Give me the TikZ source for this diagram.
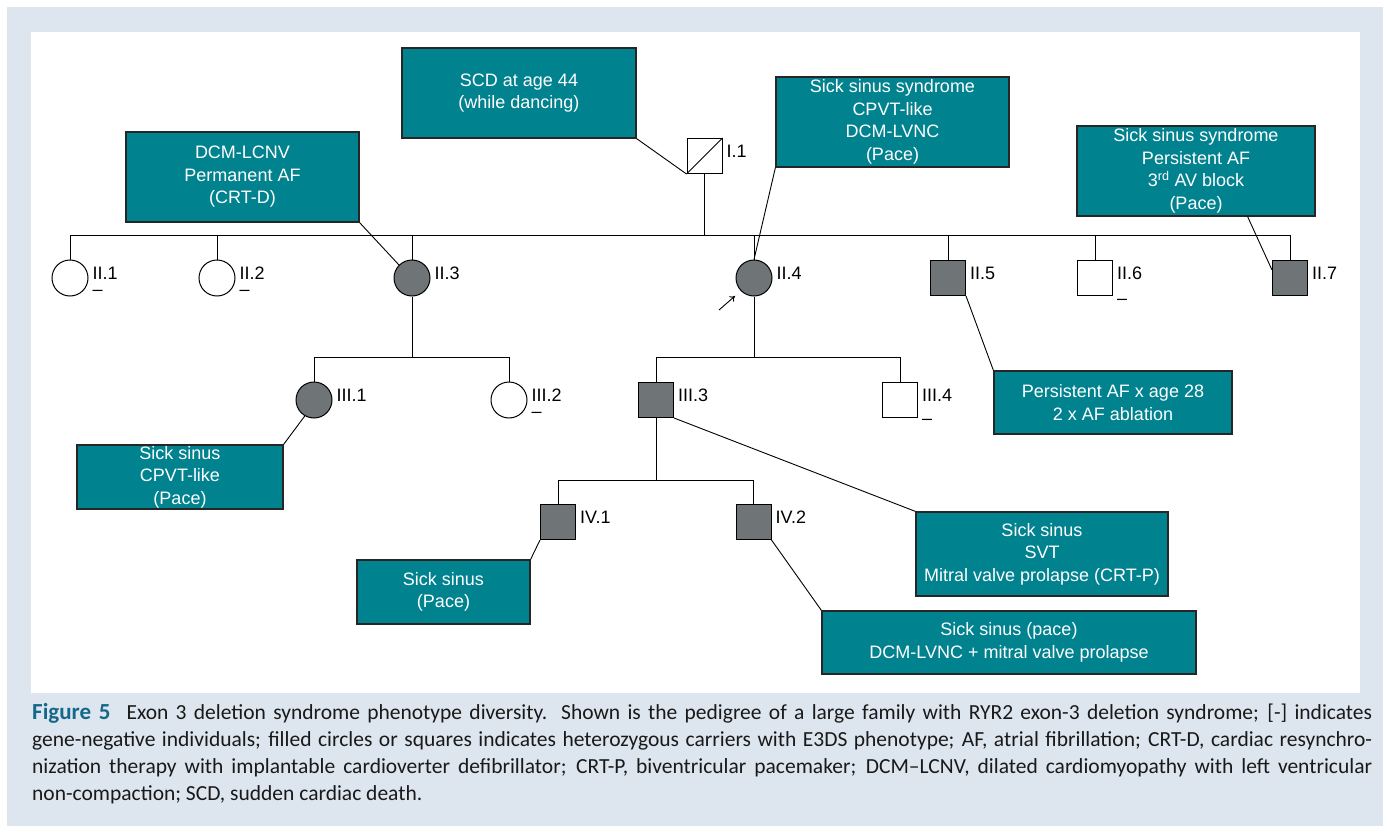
\documentclass[tikz,border=0pt]{standalone}
\usepackage{fontspec}
\setmainfont{Liberation Sans}
\newfontfamily\capfont{Carlito}
\usetikzlibrary{arrows.meta,positioning}
\definecolor{figbg}{RGB}{221,230,239}
\definecolor{notefill}{RGB}{0,130,143}
\definecolor{carrierfill}{RGB}{111,116,118}
\definecolor{figblue}{RGB}{22,104,138}
\begin{document}
\begin{tikzpicture}[
  x=1pt, y=-1pt,
  every node/.style={font=\fontsize{18}{22.5}\selectfont},
  note/.style={draw=black!85, line width=1.2pt, fill=notefill, text=white, align=center, inner sep=0pt},
  female/.style={draw, circle, line width=1pt, minimum size=36pt, inner sep=0pt},
  male/.style={draw, rectangle, line width=1pt, minimum size=35pt, inner sep=0pt},
  carrier/.style={fill=carrierfill},
  tag/.style={anchor=base west, inner sep=0pt},
  neg/.style={anchor=base west, inner sep=0pt},
  link/.style={line width=0.9pt}
]
\useasboundingbox (0,0) rectangle (1387,832);
\fill[figbg] (7,7) rectangle (1383,826);
\fill[white] (31,32) rectangle (1360,693);

% generation I
\node[male] (I1) at (704.5,156) {};
\draw[link] (I1.south west) -- (I1.north east);

% generation II
\node[female] (II1) at (70,278) {};
\node[female] (II2) at (217,278) {};
\node[female, carrier] (II3) at (412,278) {};
\node[female, carrier] (II4) at (754,278) {};
\node[male, carrier] (II5) at (948,278) {};
\node[male] (II6) at (1095,278) {};
\node[male, carrier] (II7) at (1290,278) {};

% generation III
\node[female, carrier] (III1) at (314,400) {};
\node[female] (III2) at (509,400) {};
\node[male, carrier] (III3) at (656,400) {};
\node[male] (III4) at (900,400) {};

% generation IV
\node[male, carrier] (IV1) at (558,522) {};
\node[male, carrier] (IV2) at (753.5,522) {};

% ids
\foreach \k/\t in {I1/I.1, II1/II.1, II2/II.2, II3/II.3, II4/II.4, II5/II.5, II6/II.6, II7/II.7,
                   III1/III.1, III2/III.2, III3/III.3, III4/III.4, IV1/IV.1, IV2/IV.2}
  \node[tag] (\k tag) at ([xshift=4pt,yshift=-1.5pt]\k.east) {\t};

% gene-negative marks
\node[neg] (II1neg) at ([yshift=-16pt]II1tag.base west) {–};
\node[neg] (II2neg) at ([yshift=-16pt]II2tag.base west) {–};
\node[neg] (III2neg) at ([yshift=-16pt]III2tag.base west) {–};
\node[neg] (II6neg) at ([yshift=-25pt]II6tag.base west) {–};
\node[neg] (III4neg) at ([yshift=-23pt]III4tag.base west) {–};

% sibship lines
\coordinate (sibII) at (0,235);
\coordinate (sibIIIa) at (0,357);
\coordinate (sibIIIb) at (0,357);
\coordinate (sibIV) at (0,480);
\draw[link] (I1.south) -- (I1.south |- sibII);
\draw[link] (II1.north |- sibII) -- (II7.north |- sibII);
\foreach \k in {II1,II2,II3,II4,II5,II6,II7}
  \draw[link] (\k.north) -- (\k.north |- sibII);
\draw[link] (II3.south) -- (II3.south |- sibIIIa);
\draw[link] (III1.north |- sibIIIa) -- (III2.north |- sibIIIa);
\draw[link] (II4.south) -- (II4.south |- sibIIIb);
\draw[link] (III3.north |- sibIIIb) -- (III4.north |- sibIIIb);
\foreach \k in {III1,III2,III3,III4}
  \draw[link] (\k.north) -- (\k.north |- sibIIIa);
\draw[link] (III3.south) -- (III3.south |- sibIV);
\draw[link] (IV1.north |- sibIV) -- (IV2.north |- sibIV);
\foreach \k in {IV1,IV2}
  \draw[link] (\k.north) -- (\k.north |- sibIV);

% proband
\coordinate (probtail) at (719,310);
\coordinate (probtip) at (735,296);
\draw[link, -{To[length=5pt,width=7pt]}] (probtail) -- (probtip);

% phenotype notes
\node[note, minimum width=234pt, minimum height=90pt] (scd) at (519,93) {SCD at age 44\\(while dancing)};
\node[note, minimum width=233pt, minimum height=90pt] (dcm) at (242.5,177) {DCM-LCNV\\Permanent AF\\(CRT-D)};
\node[note, minimum width=233pt, minimum height=90pt] (cpvt) at (892.5,122) {Sick sinus syndrome\\CPVT-like\\DCM-LVNC\\(Pace)};
\node[note, minimum width=238pt, minimum height=90pt] (avb) at (1196,171) {Sick sinus syndrome\\Persistent AF\\3\textsuperscript{rd} AV block\\(Pace)};
\node[note, minimum width=238pt, minimum height=63pt] (paf) at (1113,402.5) {Persistent AF x age 28\\2 x AF ablation};
\node[note, minimum width=206pt, minimum height=64pt] (sscpvt) at (180,477) {Sick sinus\\CPVT-like\\(Pace)};
\node[note, minimum width=173pt, minimum height=64pt] (sspace) at (443.5,592) {Sick sinus\\(Pace)};
\node[note, minimum width=252pt, minimum height=84pt] (svt) at (1042,554) {Sick sinus\\SVT\\Mitral valve prolapse (CRT-P)};
\node[note, minimum width=374pt, minimum height=63pt] (mvp) at (1009,642.5) {Sick sinus (pace)\\DCM-LVNC + mitral valve prolapse};

% note connectors
\draw[link] (scd.south east) -- (I1.south west);
\draw[link] (dcm.south east) -- (II3.135);
\draw[link] (cpvt.south west) -- (II4.north);
\draw[link] ([xshift=-68pt]avb.south east) -- ([yshift=8pt]II7.west);
\draw[link] (II5.south east) -- (paf.north west);
\draw[link] (sscpvt.north east) -- (III1.240);
\draw[link] (sspace.north east) -- (IV1.south west);
\draw[link] (III3.south east) -- (svt.north west);
\draw[link] (IV2.south east) -- (mvp.north west);

% caption
\node[anchor=base west, inner sep=0pt, text width=1340pt, align=justify,
      font=\capfont\fontsize{21.5}{27}\selectfont, text=black!90] (caption) at (32,719)
  {\textcolor{figblue}{\bfseries\fontsize{23}{27}\selectfont Figure 5}\hspace{0.4em} Exon 3 deletion syndrome phenotype diversity. Shown is the pedigree of a large family with RYR2 exon-3 deletion syndrome; [-] indicates\linebreak
   gene-negative individuals; filled circles or squares indicates heterozygous carriers with E3DS phenotype; AF, atrial fibrillation; CRT-D, cardiac resynchro-\linebreak
   nization therapy with implantable cardioverter defibrillator; CRT-P, biventricular pacemaker; DCM–LCNV, dilated cardiomyopathy with left ventricular\linebreak
   non-compaction; SCD, sudden cardiac death.};
\end{tikzpicture}
\end{document}
